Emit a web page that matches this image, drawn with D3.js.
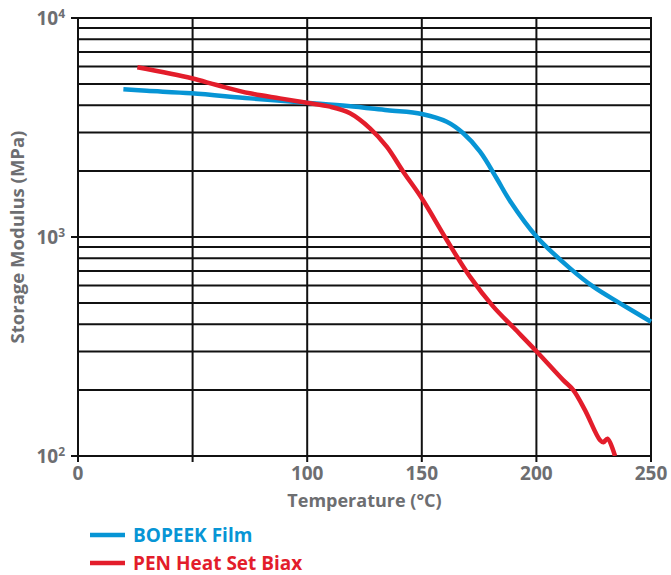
<!DOCTYPE html>
<html>
<head>
<meta charset="utf-8">
<script src="https://cdn.jsdelivr.net/npm/d3@7"></script>
<style>
  html, body { margin: 0; padding: 0; background: #fff; }
  svg { display: block; }
  text { font-family: "Open Sans", "Noto Sans", sans-serif; font-weight: 700; }
</style>
</head>
<body>
<svg id="chart" width="671" height="575"></svg>
<script>
// ---- data ----
const xTicks = [0, 50, 100, 150, 200, 250];
const xTickLabels = ["0", "", "100", "150", "200", "250"];
const yMajorTicks = [100, 1000, 10000];
const yMajorExponents = ["2", "3", "4"];

const seriesNames = ["BOPEEK Film", "PEN Heat Set Biax"];
const seriesColors = ["#0795d5", "#e31d2b"];

const bopeekTemps = [19.8, 30, 49.6, 75, 99.8, 117.8, 135, 150, 160.9, 168.1, 175.4, 182.7, 188.5, 200.1, 214.7, 224.8, 236.5, 250];
const bopeekValues = [4725, 4650, 4531, 4295, 4102, 3963, 3790, 3646, 3358, 2975, 2452, 1849, 1460, 1003, 719, 593, 498, 410];

const penTemps = [25.9, 49.6, 60.5, 75, 88.1, 99.8, 110, 118.7, 127.4, 134.7, 141.9, 150, 160.9, 171, 181.2, 190, 200.1, 211.7, 216.1, 221.2, 227.8, 229.3, 231.0, 234.3];
const penValues = [5957, 5305, 4943, 4531, 4295, 4102, 3936, 3672, 3135, 2584, 1987, 1502, 969, 659, 481, 386, 300, 222, 200, 162, 118, 115.6, 120, 100];

const xTitle = "Temperature (°C)";
const yTitle = "Storage Modulus (MPa)";

// ---- layout ----
const plotLeft = 78, plotRight = 651, plotTop = 18, plotBottom = 456;
const textGray = "#6d6e71";

const svg = d3.select("#chart");
const x = d3.scaleLinear().domain([0, 250]).range([plotLeft, plotRight]);
const y = d3.scaleLog().domain([100, 10000]).range([plotBottom, plotTop]);

// horizontal gridlines (all log ticks)
svg.append("g").selectAll("line")
  .data(y.ticks())
  .join("line")
  .attr("x1", plotLeft).attr("x2", plotRight)
  .attr("y1", d => y(d)).attr("y2", d => y(d))
  .attr("stroke", "#111").attr("stroke-width", 2);

// vertical gridlines
svg.append("g").selectAll("line")
  .data(xTicks)
  .join("line")
  .attr("x1", d => x(d)).attr("x2", d => x(d))
  .attr("y1", plotTop - 1).attr("y2", plotBottom + 6)
  .attr("stroke", "#111").attr("stroke-width", 2);

// y major tick marks
svg.append("g").selectAll("line")
  .data(yMajorTicks)
  .join("line")
  .attr("x1", plotLeft - 7).attr("x2", plotLeft)
  .attr("y1", d => y(d)).attr("y2", d => y(d))
  .attr("stroke", "#111").attr("stroke-width", 2);

// y tick labels 10^n
const yl = svg.append("g").selectAll("text")
  .data(yMajorTicks)
  .join("text")
  .attr("x", 65)
  .attr("y", d => y(d) + 7)
  .attr("text-anchor", "end")
  .attr("fill", textGray)
  .attr("font-size", 19);
yl.append("tspan").text("10");
yl.append("tspan").attr("dy", -7).attr("font-size", 12).text((d, i) => yMajorExponents[i]);

// x tick labels
svg.append("g").selectAll("text")
  .data(xTicks)
  .join("text")
  .attr("x", d => x(d))
  .attr("y", plotBottom + 24)
  .attr("text-anchor", "middle")
  .attr("fill", textGray)
  .attr("font-size", 19)
  .text((d, i) => xTickLabels[i]);

// axis titles
svg.append("text")
  .attr("x", (plotLeft + plotRight) / 2).attr("y", 507)
  .attr("text-anchor", "middle")
  .attr("fill", textGray)
  .attr("font-size", 18)
  .text(xTitle);

svg.append("text")
  .attr("transform", "translate(24," + ((plotTop + plotBottom) / 2) + ") rotate(-90)")
  .attr("text-anchor", "middle")
  .attr("fill", textGray)
  .attr("font-size", 18.5)
  .text(yTitle);

// data lines
const line = d3.line()
  .x(d => x(d[0]))
  .y(d => y(d[1]))
  .curve(d3.curveCatmullRom.alpha(0.5));

const series = [
  d3.zip(bopeekTemps, bopeekValues),
  d3.zip(penTemps, penValues)
];

svg.append("defs").append("clipPath").attr("id", "plotclip")
  .append("rect").attr("x", plotLeft).attr("y", plotTop - 5)
  .attr("width", plotRight - plotLeft + 2).attr("height", plotBottom - plotTop + 5);

svg.append("g").attr("clip-path", "url(#plotclip)")
  .selectAll("path")
  .data(series)
  .join("path")
  .attr("d", line)
  .attr("fill", "none")
  .attr("stroke", (d, i) => seriesColors[i])
  .attr("stroke-width", 4.5)
  .attr("stroke-linejoin", "round")
  .attr("stroke-linecap", "butt");

// legend
const legendY = [535, 563];
const lg = svg.append("g").selectAll("g")
  .data(seriesNames)
  .join("g")
  .attr("transform", (d, i) => "translate(0," + legendY[i] + ")");
lg.append("line")
  .attr("x1", 90).attr("x2", 125)
  .attr("y1", 0).attr("y2", 0)
  .attr("stroke", (d, i) => seriesColors[i])
  .attr("stroke-width", 4.5);
lg.append("text")
  .attr("x", 133).attr("y", 7)
  .attr("fill", (d, i) => seriesColors[i])
  .attr("font-size", 19)
  .text(d => d);
</script>
</body>
</html>
